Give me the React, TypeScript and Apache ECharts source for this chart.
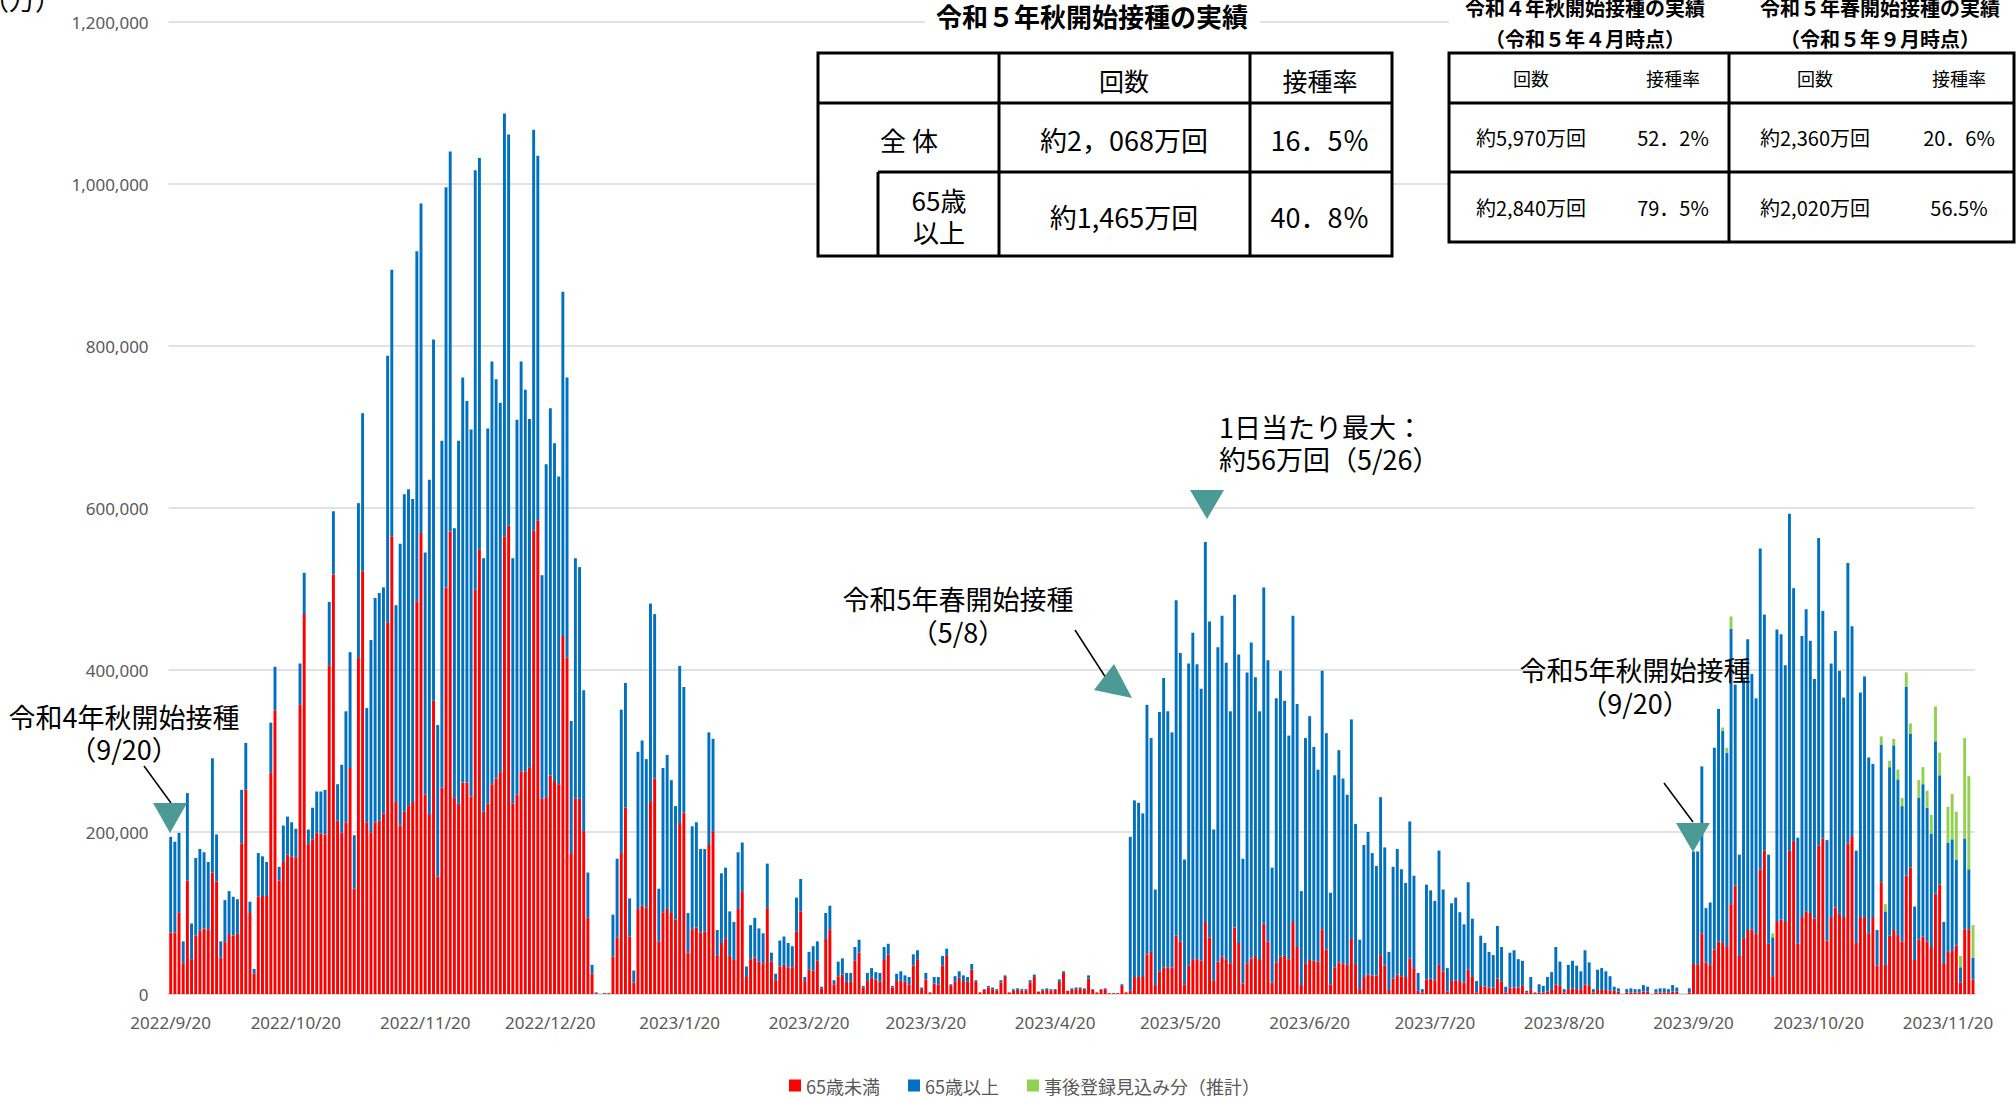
import React, { useEffect, useRef } from "react";
import * as echarts from "echarts";

// daily values in thousands of shots, 2022/9/20 .. 2023/11/26
const START = { y: 2022, m: 9, d: 20 };
const DAY_COUNT = 433;

const under65K = [
  // 2022/9/20-9/30
  76, 76, 101, 38, 140, 43, 72, 78, 81, 80, 150,
  // 2022/10
  139, 45, 64, 74, 72, 75, 186, 252, 100, 25, 120, 121, 121, 273, 350, 140, 163, 172, 170, 168, 357, 469, 185, 191, 199, 198, 197, 406, 518, 214, 199,
  // 2022/11
  212, 279, 130, 415, 522, 212, 199, 212, 214, 223, 459, 565, 237, 208, 225, 232, 237, 485, 569, 246, 222, 362, 145, 255, 502, 571, 243, 235, 261, 261,
  // 2022/12
  244, 499, 549, 225, 235, 259, 266, 274, 565, 578, 235, 246, 275, 275, 280, 572, 585, 241, 243, 270, 263, 259, 442, 415, 174, 241, 241, 201, 94, 25, 1,
  // 2023/1
  0, 1, 1, 46, 70, 174, 230, 71, 14, 105, 109, 107, 237, 266, 65, 101, 105, 100, 92, 211, 224, 51, 80, 82, 76, 77, 184, 201, 47, 63, 68,
  // 2023/2
  47, 42, 105, 127, 21, 43, 45, 40, 38, 106, 40, 17, 34, 36, 33, 33, 77, 102, 16, 30, 29, 41, 7, 68, 80, 12, 22, 24,
  // 2023/3
  15, 15, 41, 51, 8, 16, 20, 18, 15, 42, 49, 8, 16, 17, 15, 12, 35, 43, 6, 18, 2, 13, 12, 35, 47, 10, 15, 20, 16, 15, 30,
  // 2023/4
  15, 2, 5, 8, 6, 4, 14, 21, 2, 4, 5, 4, 4, 14, 21, 3, 4, 5, 4, 5, 15, 26, 4, 5, 6, 6, 6, 19, 5, 2,
  // 2023/5
  5, 6, 1, 1, 1, 10, 2, 4, 21, 21, 21, 49, 52, 11, 28, 33, 33, 33, 72, 65, 12, 35, 43, 43, 41, 89, 70, 17, 40, 46, 43,
  // 2023/6
  38, 82, 63, 13, 38, 44, 47, 42, 87, 65, 14, 39, 46, 47, 43, 89, 58, 11, 38, 42, 41, 40, 80, 55, 12, 33, 39, 38, 36, 68,
  // 2023/7
  37, 6, 21, 24, 23, 23, 48, 35, 5, 19, 24, 22, 21, 44, 32, 4, 2, 18, 19, 17, 36, 28, 3, 16, 17, 16, 14, 30, 21, 2, 10,
  // 2023/8
  9, 8, 8, 19, 15, 2, 8, 8, 8, 10, 2, 6, 1, 2, 2, 3, 5, 12, 10, 2, 6, 7, 6, 6, 12, 10, 2, 5, 5, 5, 4,
  // 2023/9
  4, 3, 0, 2, 2, 2, 2, 3, 3, 0, 2, 2, 2, 2, 3, 3, 0, 0, 2, 37, 36, 75, 39, 36, 55, 65, 63, 58, 111, 134,
  // 2023/10
  47, 69, 79, 80, 74, 154, 177, 62, 22, 89, 92, 89, 177, 189, 62, 95, 102, 100, 93, 183, 192, 66, 95, 107, 99, 95, 186, 195, 63, 95, 95,
  // 2023/11/1-11/26
  75, 95, 35, 138, 36, 72, 79, 73, 65, 146, 156, 42, 67, 71, 65, 58, 124, 135, 37, 52, 54, 60, 14, 80, 80, 18,
];

const over65K = [
  // 2022/9/20-9/30
  118, 112, 98, 27, 108, 44, 96, 101, 94, 83, 141,
  // 2022/10
  58, 20, 52, 53, 48, 42, 66, 58, 14, 6, 54, 49, 42, 62, 54, 17, 45, 47, 42, 36, 51, 51, 18, 39, 51, 52, 55, 78, 78, 45, 84,
  // 2022/11
  137, 143, 66, 191, 195, 141, 238, 277, 281, 279, 329, 329, 243, 348, 392, 391, 374, 432, 407, 299, 413, 446, 187, 428, 494, 469, 332, 448, 500, 471,
  // 2022/12
  453, 518, 483, 313, 463, 522, 493, 456, 522, 483, 303, 463, 506, 471, 430, 495, 450, 276, 411, 453, 417, 380, 425, 346, 163, 297, 286, 174, 56, 11, 1,
  // 2023/1
  0, 0, 0, 52, 97, 177, 154, 47, 15, 194, 204, 183, 245, 203, 65, 178, 190, 164, 140, 194, 155, 49, 127, 130, 103, 102, 139, 114, 32, 86, 88,
  // 2023/2
  55, 47, 70, 60, 13, 42, 49, 41, 37, 55, 11, 8, 32, 35, 30, 26, 42, 40, 5, 22, 30, 24, 2, 32, 29, 5, 18, 20,
  // 2023/3
  11, 11, 17, 16, 2, 10, 12, 9, 11, 16, 13, 2, 9, 11, 8, 9, 14, 11, 2, 8, 0, 8, 9, 12, 9, 2, 7, 8, 7, 6, 7,
  // 2023/4
  2, 0, 1, 2, 2, 2, 3, 2, 0, 2, 2, 2, 2, 3, 3, 0, 2, 2, 2, 1, 3, 2, 0, 2, 2, 2, 1, 4, 1, 0,
  // 2023/5
  1, 1, 0, 0, 0, 2, 0, 190, 218, 215, 202, 308, 264, 118, 320, 357, 316, 290, 414, 356, 154, 373, 403, 364, 336, 469, 390, 186, 388, 421, 366,
  // 2023/6
  311, 411, 356, 154, 359, 390, 344, 307, 415, 347, 142, 326, 353, 315, 276, 378, 300, 116, 278, 301, 264, 237, 319, 267, 113, 237, 262, 228, 210, 271,
  // 2023/7
  173, 61, 163, 176, 151, 135, 195, 146, 47, 138, 155, 132, 116, 169, 114, 22, 4, 117, 109, 98, 141, 101, 29, 96, 102, 85, 72, 108, 72, 14, 62,
  // 2023/8
  54, 44, 40, 65, 43, 7, 43, 46, 35, 31, 2, 15, 1, 10, 8, 18, 22, 46, 30, 4, 30, 34, 29, 22, 42, 29, 4, 25, 27, 23, 18,
  // 2023/9
  5, 4, 0, 4, 5, 4, 4, 8, 6, 0, 4, 5, 5, 4, 8, 5, 0, 0, 5, 139, 140, 206, 67, 77, 249, 287, 262, 240, 340, 248,
  // 2023/10
  125, 321, 359, 315, 291, 396, 291, 110, 48, 361, 352, 317, 416, 312, 131, 347, 373, 336, 296, 380, 281, 124, 313, 341, 300, 271, 346, 259, 114, 277, 297,
  // 2023/11/1-11/26
  217, 189, 44, 170, 66, 208, 228, 192, 167, 233, 165, 66, 175, 188, 165, 140, 188, 135, 52, 135, 137, 106, 19, 112, 74, 27,
];

// estimated late registrations, from 2023/9/20 onward
const GREEN_START = "2023/9/20";
const lateEstimateK = [
  // 2023/9/20-9/30
  0, 0, 0, 0, 0, 0, 0, 4, 6, 15, 0,
  // 2023/10
  0, 0, 0, 0, 0, 0, 1, 0, 5, 0, 0, 0, 0, 0, 0, 0, 0, 0, 0, 0, 0, 0, 0, 0, 0, 0, 0, 0, 0, 1, 0,
  // 2023/11/1-11/26
  0, 0, 0, 10, 9, 8, 8, 12, 10, 18, 13, 0, 22, 21, 21, 23, 43, 28, 0, 44, 56, 59, 14, 124, 115, 40,
];

const SERIES_NAMES = ["65歳未満", "65歳以上", "事後登録見込み分（推計）"];
const COLORS = ["#FF0000", "#0070C0", "#92D050"];
const Y_TICKS = [0, 200000, 400000, 600000, 800000, 1000000, 1200000];

const dates: string[] = [];
for (let i = 0; i < DAY_COUNT; i++) {
  const d = new Date(START.y, START.m - 1, START.d + i);
  dates.push(`${d.getFullYear()}/${d.getMonth() + 1}/${d.getDate()}`);
}

const FONT_JP = '"Noto Sans CJK JP", "Noto Sans", sans-serif';
const TEAL = "#4b9a95";

function txt(text: string, x: number, y: number, size: number, opts: any = {}) {
  const align = opts.align || "center";
  return {
    type: "text",
    x,
    y,
    z: 100,
    style: {
      text,
      font: `${opts.bold ? "bold " : ""}${size}px ${FONT_JP}`,
      fill: opts.fill || "#000",
      textAlign: align,
      align,
      textVerticalAlign: "middle",
      verticalAlign: "middle",
      ...(opts.lineHeight ? { lineHeight: opts.lineHeight } : {}),
    },
  };
}
function ln(x1: number, y1: number, x2: number, y2: number, w = 3) {
  return { type: "line", z: 100, shape: { x1, y1, x2, y2 }, style: { stroke: "#000", lineWidth: w } };
}
function tri(points: number[][]) {
  return { type: "polygon", z: 100, shape: { points }, style: { fill: TEAL } };
}

export default function App() {
  const ref = useRef<HTMLDivElement>(null);
  useEffect(() => {
    if (!ref.current) return;
    const chart = echarts.init(ref.current, undefined, { renderer: "svg" });
    const gStart = dates.indexOf(GREEN_START);
    const greenData = dates.map((_, i) =>
      i >= gStart && i - gStart < lateEstimateK.length ? lateEstimateK[i - gStart] * 1000 : 0
    );
    const graphic: any[] = [
      // y-axis unit (cut at the top)
      txt("（万）", 22, -2, 26),
      // table 1
      { type: "rect", z: 99, shape: { x: 925, y: 1, width: 335, height: 30 }, style: { fill: "#fff" } },
      txt("令和５年秋開始接種の実績", 1092, 15, 26, { bold: true }),
      { type: "rect", z: 99, shape: { x: 818, y: 53, width: 574, height: 203 }, style: { fill: "#fff", stroke: "#000", lineWidth: 3 } },
      ln(999, 53, 999, 256),
      ln(1250, 53, 1250, 256),
      ln(878, 172, 878, 256),
      ln(818, 103, 1392, 103),
      ln(878, 172, 1392, 172),
      txt("回数", 1124, 80, 25),
      txt("接種率", 1320, 80, 25),
      txt("全 体", 909, 139, 26),
      txt("約2，068万回", 1124, 139, 27),
      txt("16．5％", 1320, 139, 27),
      txt("65歳\n以上", 939, 215, 26, { lineHeight: 32 }),
      txt("約1,465万回", 1124, 216, 27),
      txt("40．8％", 1320, 216, 27),
      // table 2
      { type: "rect", z: 99, shape: { x: 1449, y: 0, width: 567, height: 52 }, style: { fill: "#fff" } },
      txt("令和４年秋開始接種の実績\n（令和５年４月時点）", 1585, 23, 20, { bold: true, lineHeight: 31 }),
      txt("令和５年春開始接種の実績\n（令和５年９月時点）", 1880, 23, 20, { bold: true, lineHeight: 31 }),
      { type: "rect", z: 99, shape: { x: 1449, y: 53, width: 565, height: 189 }, style: { fill: "#fff", stroke: "#000", lineWidth: 3 } },
      ln(1729, 53, 1729, 242),
      ln(1449, 103, 2014, 103),
      ln(1449, 172, 2014, 172),
      txt("回数", 1531, 78, 18),
      txt("接種率", 1673, 78, 18),
      txt("回数", 1815, 78, 18),
      txt("接種率", 1959, 78, 18),
      txt("約5,970万回", 1531, 137, 20),
      txt("52．2%", 1673, 137, 20),
      txt("約2,360万回", 1815, 137, 20),
      txt("20．6%", 1959, 137, 20),
      txt("約2,840万回", 1531, 207, 20),
      txt("79．5%", 1673, 207, 20),
      txt("約2,020万回", 1815, 207, 20),
      txt("56.5%", 1959, 207, 20),
      // annotation: autumn 2022
      txt("令和4年秋開始接種\n（9/20）", 124, 732, 27, { lineHeight: 32 }),
      ln(144, 766, 171, 803, 1.5),
      tri([[153, 803], [187, 803], [170, 833]]),
      // annotation: spring 2023
      txt("令和5年春開始接種\n（5/8）", 958, 615, 27, { lineHeight: 33 }),
      ln(1075, 630, 1106, 678, 1.5),
      tri([[1114, 664], [1132, 698], [1094, 690]]),
      // annotation: max
      txt("1日当たり最大：\n約56万回（5/26）", 1219, 442, 27, { align: "left", lineHeight: 32 }),
      tri([[1190, 490], [1224, 490], [1207, 519]]),
      // annotation: autumn 2023
      txt("令和5年秋開始接種\n（9/20）", 1635, 686, 27, { lineHeight: 33 }),
      ln(1664, 783, 1693, 822, 1.5),
      tri([[1676, 823], [1710, 823], [1693, 852]]),
    ];

    chart.setOption({
      animation: false,
      backgroundColor: "#fff",
      grid: { left: 168.6, right: 40.9, top: 22, bottom: 104, containLabel: false },
      legend: {
        data: SERIES_NAMES,
        left: 789,
        top: 1076,
        padding: 0,
        itemWidth: 12,
        itemHeight: 12,
        itemGap: 28,
        icon: "rect",
        textStyle: { color: "#595959", fontSize: 18, fontFamily: FONT_JP, lineHeight: 19 },
      },
      xAxis: {
        type: "category",
        data: dates,
        axisTick: { show: false },
        axisLine: { lineStyle: { color: "#d9d9d9", width: 2 } },
        axisLabel: {
          interval: (_i: number, v: string) => v.endsWith("/20"),
          color: "#595959",
          fontSize: 17,
          fontFamily: '"Noto Sans", sans-serif',
          margin: 20,
          hideOverlap: false,
        },
      },
      yAxis: {
        type: "value",
        min: Y_TICKS[0],
        max: Y_TICKS[Y_TICKS.length - 1],
        interval: Y_TICKS[1] - Y_TICKS[0],
        axisLabel: {
          color: "#595959",
          fontSize: 17,
          fontFamily: '"Noto Sans", sans-serif',
          margin: 20,
          formatter: (v: number) => v.toLocaleString("en-US"),
        },
        splitLine: { lineStyle: { color: "#d9d9d9", width: 1.5 } },
        axisLine: { show: false },
        axisTick: { show: false },
      },
      series: [
        { name: SERIES_NAMES[0], type: "bar", stack: "total", barCategoryGap: "30%", itemStyle: { color: COLORS[0] }, data: under65K.map((v) => v * 1000) },
        { name: SERIES_NAMES[1], type: "bar", stack: "total", barCategoryGap: "30%", itemStyle: { color: COLORS[1] }, data: over65K.map((v) => v * 1000) },
        { name: SERIES_NAMES[2], type: "bar", stack: "total", barCategoryGap: "30%", itemStyle: { color: COLORS[2] }, data: greenData },
      ],
      graphic,
    });
    return () => chart.dispose();
  }, []);
  return (
    <div
      ref={ref}
      style={{ position: "fixed", left: 0, top: 0, width: 2016, height: 1098, background: "#fff" }}
    />
  );
}
